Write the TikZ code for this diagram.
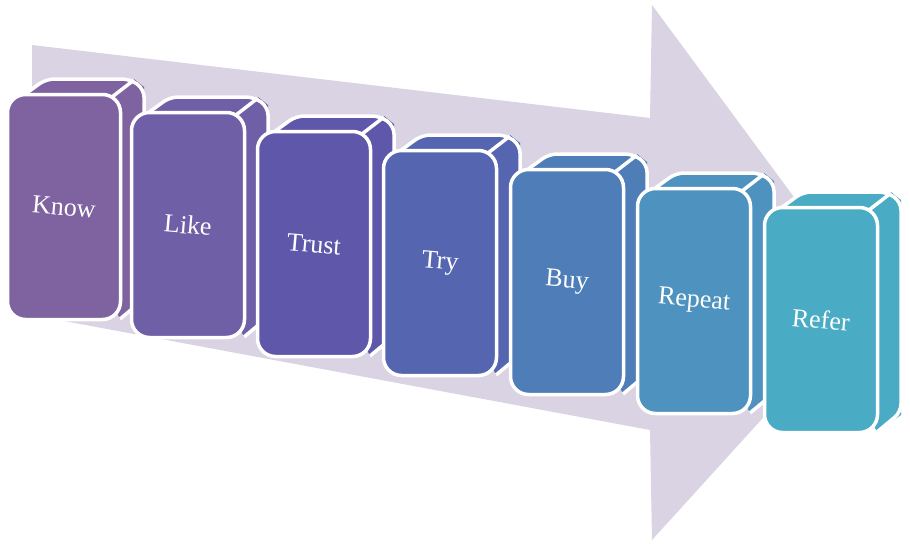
\documentclass[tikz,border=0pt]{standalone}
\usepackage{fontspec}
\setmainfont{Liberation Serif}
\usetikzlibrary{calc}
\definecolor{arrowbg}{HTML}{D9D3E3}
\definecolor{cKnow}{HTML}{7F63A0}
\definecolor{cLike}{HTML}{6F5FA6}
\definecolor{cTrust}{HTML}{5E57AA}
\definecolor{cTry}{HTML}{5665B0}
\definecolor{cBuy}{HTML}{4F7DB8}
\definecolor{cRepeat}{HTML}{4E93BF}
\definecolor{cRefer}{HTML}{4AABC4}
\tikzset{>=latex}
\tikzstyle{face} = [draw=white, line width=3.5pt, line join=round, rounded corners=8pt]
\tikzstyle{stage} = [face, rectangle, rounded corners=18pt, minimum width=113, minimum height=225, inner sep=0,
  text=white, font=\fontsize{26}{30}\selectfont]

\begin{document}
\begin{tikzpicture}[x=1pt, y=-1pt]
\useasboundingbox (0,0) rectangle (910,546);
% big arrow behind the steps
\coordinate (s1) at (32,45);
\coordinate (h1) at (650,118);
\coordinate (h2) at (652,5);
\coordinate (tip) at (870,300);
\coordinate (h3) at (652,540);
\coordinate (h4) at (650,430);
\coordinate (s2) at (32,315);
\fill [arrowbg] (s1) -- (h1) -- (h2) -- (tip) -- (h3) -- (h4) -- (s2) -- cycle;
% the steps
\foreach \name/\x/\y/\col in {Know/64/207/cKnow, Like/188/225/cLike, Trust/314/244/cTrust,
  Try/440/263/cTry, Buy/567/282/cBuy, Repeat/694/301/cRepeat, Refer/821/320/cRefer} {
  \coordinate (\name-c) at (\x,\y);
  \fill [\col] ($(\name-c)+(-40,-112)$) -- ($(\name-c)+(-18,-128)$) -- ($(\name-c)+(70,-128)$)
    -- ($(\name-c)+(80,-120)$) -- ($(\name-c)+(80,95)$) -- ($(\name-c)+(56,112)$) -- cycle;
  \draw [face, fill=\col] ($(\name-c)+(-40,-112)$) -- ($(\name-c)+(-18,-128)$) -- ($(\name-c)+(66,-128)$)
    -- ($(\name-c)+(80,-118)$) -- ($(\name-c)+(80,92)$) -- ($(\name-c)+(56,112)$);
  \draw [white, line width=3.5pt] ($(\name-c)+(48,-110)$) -- ($(\name-c)+(70,-127)$);
  \node [stage, fill=\col] (\name) at (\name-c) {\rotatebox{-5}{\name}};
}
\end{tikzpicture}
\end{document}
